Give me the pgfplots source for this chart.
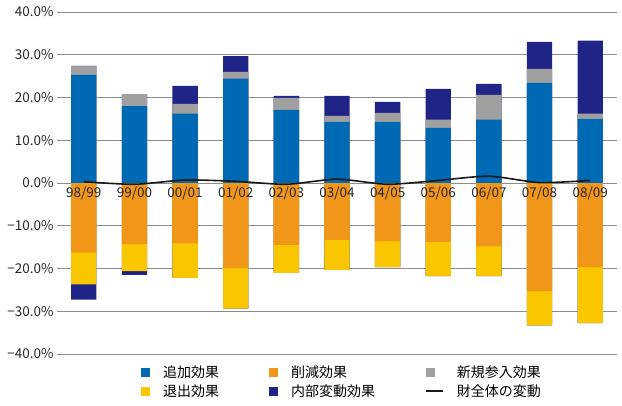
\documentclass[border=0pt]{standalone}
\usepackage{fontspec}
\setmainfont{Noto Sans CJK JP}
\usepackage{pgfplots}
\pgfplotsset{compat=1.18}
\usepackage{pgfplotstable}
\definecolor{cblue}{RGB}{0,105,180}
\definecolor{corange}{RGB}{240,150,25}
\definecolor{cgray}{RGB}{160,160,160}
\definecolor{cyellow}{RGB}{250,198,0}
\definecolor{cnavy}{RGB}{32,36,134}
\definecolor{cgrid}{RGB}{140,140,140}
\pgfplotsset{sqlegend/.style={legend image code/.code={\fill[##1] (0pt,-4.5pt) rectangle (9pt,4.5pt);}},
  lnlegend/.style={legend image code/.code={\draw[##1] (0pt,0pt) -- (17pt,0pt);}},
  layers/labelstop/.define layer set={axis background,axis grid,axis ticks,axis lines,main,axis tick labels,axis descriptions,axis foreground}{/pgfplots/layers/standard}}
\pgfplotstableread{
x add new intp red exit intn total
0 25.3 2.1 0 -16.3 -7.4 -3.6 0.3
1 18.0 2.8 0 -14.3 -6.3 -0.9 -0.3
2 16.2 2.3 4.2 -14.1 -8.1 0 0.7
3 24.4 1.6 3.7 -19.9 -9.5 0 0.4
4 17.1 2.8 0.5 -14.5 -6.5 0 -0.3
5 14.3 1.4 4.7 -13.3 -7.0 0 0.9
6 14.3 2.1 2.6 -13.6 -6.1 0 -0.3
7 12.9 1.9 7.2 -13.8 -8.0 0 0.6
8 14.8 5.8 2.6 -14.8 -7.0 0 1.6
9 23.4 3.3 6.3 -25.3 -8.0 0 0.1
10 15.0 1.2 17.1 -19.7 -13.1 0 0.6
}\data
\begin{document}
\begin{tikzpicture}
\begin{axis}[
  set layers=labelstop,
  at={(0pt,0pt)}, anchor=south west,
  scale only axis, width=560pt, height=342pt,
  xmin=-0.53, xmax=10.53, ymin=-40, ymax=40,
  axis line style={draw=none}, tick style={draw=none},
  ymajorgrids, grid style={cgrid, line width=0.9pt},
  ytick={-40,-30,-20,-10,0,10,20,30,40},
  yticklabels={−40.0\%,−30.0\%,−20.0\%,−10.0\%,0.0\%,10.0\%,20.0\%,30.0\%,40.0\%},
  xtick={0,...,10},
  xticklabels={98/99,99/00,00/01,01/02,02/03,03/04,04/05,05/06,06/07,07/08,08/09},
  xticklabel style={yshift=171pt},
  ticklabel style={font=\fontsize{13.5}{15}\selectfont, text=black!85},
  legend columns=3,
  legend cell align=left,
  legend style={draw=none, fill=none, inner sep=0pt, at={(0.15,-0.035)}, anchor=north west,
    font=\fontsize{14}{16}\selectfont, nodes={inner sep=0pt},
    row sep=5pt,
    /tikz/every odd column/.append style={column sep=13pt},
    /tikz/every even column/.append style={column sep=50pt}},
]
% positive stack (cumulative overlay)
\addplot[ybar, bar width=0.5, bar shift=0pt, fill=cnavy, draw=none, forget plot] table[x=x, y expr=\thisrow{add}+\thisrow{new}+\thisrow{intp}] {\data};
\addplot[ybar, bar width=0.5, bar shift=0pt, fill=cgray, draw=none, forget plot] table[x=x, y expr=\thisrow{add}+\thisrow{new}] {\data};
\addplot[ybar, bar width=0.5, bar shift=0pt, fill=cblue, draw=none, forget plot] table[x=x, y=add] {\data};
% negative stack
\addplot[ybar, bar width=0.5, bar shift=0pt, fill=cnavy, draw=none, forget plot] table[x=x, y expr=\thisrow{red}+\thisrow{exit}+\thisrow{intn}] {\data};
\addplot[ybar, bar width=0.5, bar shift=0pt, fill=cyellow, draw=none, forget plot] table[x=x, y expr=\thisrow{red}+\thisrow{exit}] {\data};
\addplot[ybar, bar width=0.5, bar shift=0pt, fill=corange, draw=none, forget plot] table[x=x, y=red] {\data};
% total change line
\addplot[black!90, line width=1.6pt, smooth, tension=0.4, forget plot] table[x=x, y=total] {\data};
% legend
\addlegendimage{sqlegend, fill=cblue, draw=none}
\addlegendentry{追加効果}
\addlegendimage{sqlegend, fill=corange, draw=none}
\addlegendentry{削減効果}
\addlegendimage{sqlegend, fill=cgray, draw=none}
\addlegendentry{新規参入効果}
\addlegendimage{sqlegend, fill=cyellow, draw=none}
\addlegendentry{退出効果}
\addlegendimage{sqlegend, fill=cnavy, draw=none}
\addlegendentry{内部変動効果}
\addlegendimage{lnlegend, black!90, line width=1.6pt}
\addlegendentry{財全体の変動}
\end{axis}
\path (-57pt,-51pt) rectangle (565pt,354pt);
\end{tikzpicture}
\end{document}
